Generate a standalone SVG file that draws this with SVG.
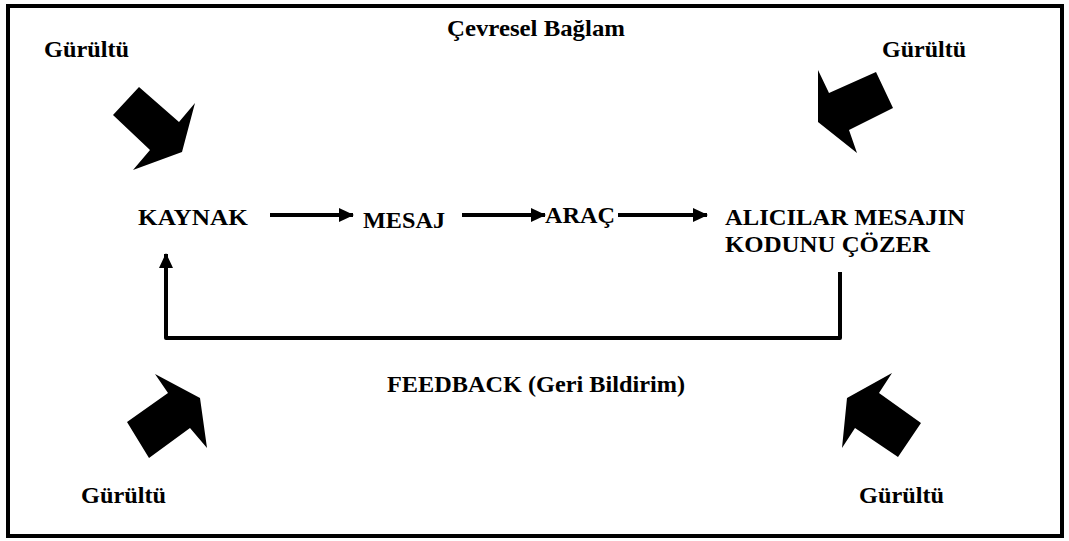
<svg xmlns="http://www.w3.org/2000/svg" width="1069" height="541" viewBox="0 0 1069 541">
<style>
.t{font-family:"Liberation Serif","Times New Roman",serif;font-weight:bold;font-size:23px;fill:#000}
.c{fill:none;stroke:#000;stroke-width:4}
.n{fill:#000}
</style>
<defs>
<marker id="ah" markerUnits="userSpaceOnUse" markerWidth="16" markerHeight="14" refX="14" refY="7" orient="auto">
<path d="M0,0 L15,7 L0,14 Z" fill="#000"/>
</marker>
</defs>
<rect x="8" y="6" width="1054" height="530" fill="#fff" stroke="#000" stroke-width="4"/>
<g id="context"><text class="t" x="447" y="36" textLength="178" lengthAdjust="spacingAndGlyphs">Çevresel Bağlam</text></g>
<g id="noise-tl"><text class="t" x="44" y="57" textLength="85" lengthAdjust="spacingAndGlyphs">Gürültü</text>
<polygon class="n" points="139,87 179,122 195,103 182,152 133,170 150,150 113,115"/></g>
<g id="noise-tr"><text class="t" x="882" y="57" textLength="84" lengthAdjust="spacingAndGlyphs">Gürültü</text>
<polygon class="n" points="818,70 829,93 876,72 893,108 849,130 857,153 818,122"/></g>
<g id="noise-bl"><text class="t" x="81" y="503" textLength="85" lengthAdjust="spacingAndGlyphs">Gürültü</text>
<polygon class="n" points="155,374 200,398 207,448 190,428 149,458 127,422 168,393"/></g>
<g id="noise-br"><text class="t" x="859" y="503" textLength="85" lengthAdjust="spacingAndGlyphs">Gürültü</text>
<polygon class="n" points="892,373 879,393 921,423 898,457 855,428 842,448 847,398"/></g>
<g id="kaynak"><text class="t" x="138" y="225" textLength="110" lengthAdjust="spacingAndGlyphs">KAYNAK</text></g>
<g id="mesaj"><text class="t" x="363" y="228" textLength="82" lengthAdjust="spacingAndGlyphs">MESAJ</text></g>
<g id="arac"><text class="t" x="545" y="223" textLength="70" lengthAdjust="spacingAndGlyphs">ARAÇ</text></g>
<g id="alicilar"><text class="t" x="725" y="225" textLength="240" lengthAdjust="spacingAndGlyphs">ALICILAR MESAJIN</text>
<text class="t" x="725" y="252" textLength="205" lengthAdjust="spacingAndGlyphs">KODUNU ÇÖZER</text></g>
<g id="feedback"><text class="t" x="387" y="392" textLength="298" lengthAdjust="spacingAndGlyphs">FEEDBACK (Geri Bildirim)</text></g>
<g id="connectors">
<line class="c" x1="270" y1="215" x2="353" y2="215" marker-end="url(#ah)"/>
<line class="c" x1="462" y1="215" x2="545" y2="215" marker-end="url(#ah)"/>
<line class="c" x1="618" y1="215" x2="707" y2="215" marker-end="url(#ah)"/>
<polyline class="c" points="840,272 840,338 166,338 166,254" marker-end="url(#ah)" stroke-linejoin="round"/>
</g>
</svg>
